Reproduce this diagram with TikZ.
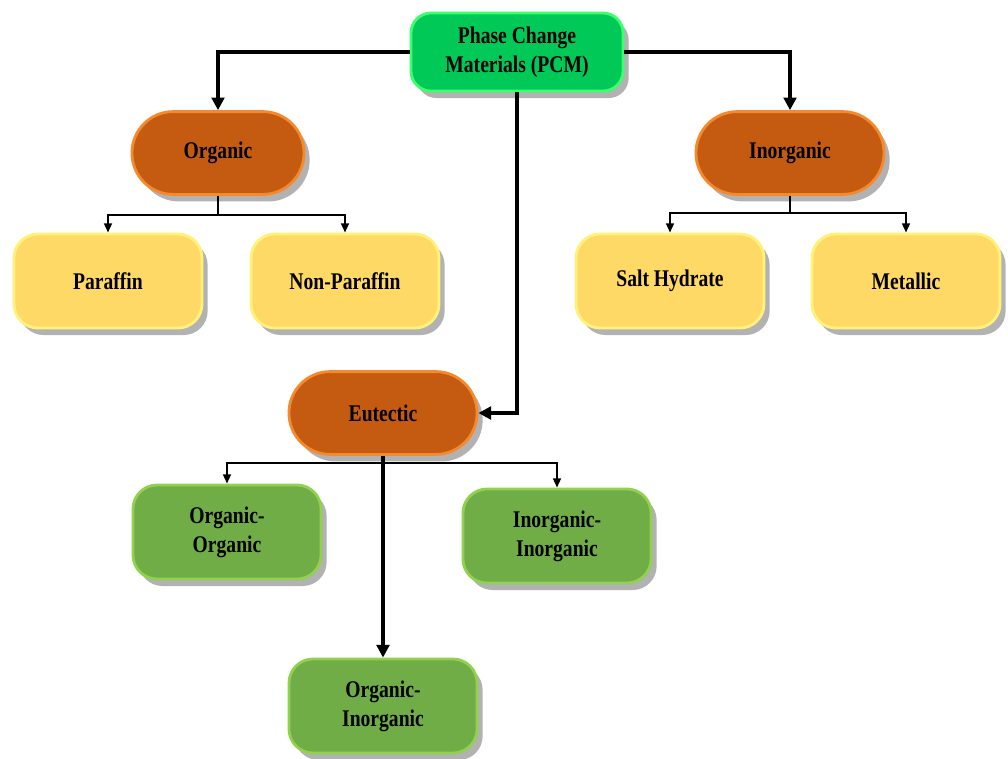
\documentclass[tikz,border=0pt]{standalone}
\usepackage{fontspec}
\setmainfont{Liberation Serif}[FakeStretch=0.82]
\usepackage{tikz}
\usetikzlibrary{arrows.meta,positioning,shadows}
\definecolor{pcmgreen}{HTML}{00C957}
\definecolor{pcmglow}{HTML}{3CFF70}
\definecolor{rust}{HTML}{C55A11}
\definecolor{rustglow}{HTML}{F58A2C}
\definecolor{sand}{HTML}{FFD966}
\definecolor{sandglow}{HTML}{FFF27A}
\definecolor{leaf}{HTML}{70AD47}
\definecolor{leafglow}{HTML}{92D050}
\tikzset{
  box/.style={align=center,font=\bfseries\fontsize{17}{20.5}\selectfont,line width=2pt,
    drop shadow={shadow xshift=4pt,shadow yshift=-5pt,opacity=0.3,fill=black}},
  rootbox/.style={box,fill=pcmgreen,draw=pcmglow,minimum width=5.3cm,minimum height=1.95cm,rounded corners=0.5cm},
  classbox/.style={box,fill=rust,draw=rustglow,minimum width=4.7cm,minimum height=2.07cm,rounded corners=1.03cm},
  typebox/.style={box,fill=sand,draw=sandglow,minimum width=4.7cm,minimum height=2.35cm,rounded corners=0.6cm},
  mixbox/.style={box,fill=leaf,draw=leafglow,minimum width=4.7cm,minimum height=2.35cm,rounded corners=0.6cm},
  mainarrow/.style={line width=2.8pt,-{Triangle[length=9pt,width=9pt]}},
  subarrow/.style={line width=1.5pt,-{Triangle[length=6.5pt,width=5.5pt]}}
}

\begin{document}
\begin{tikzpicture}[x=0.025cm,y=-0.025cm]
        \useasboundingbox (0,0) rectangle (1008,758);
        % top
        \node[rootbox] (pcm) at (517,52) {Phase Change\\Materials (PCM)};
        % classes
        \node[classbox,minimum width=4.3cm] (org) at (218,153) {Organic};
        \node[classbox] (inorg) at (790,153) {Inorganic};
        \node[classbox] (eut) at (383,413) {Eutectic};
        % types
        \node[typebox] (par) at (108,281) {Paraffin};
        \node[typebox] (npar) at (345,281) {Non-Paraffin};
        \node[typebox] (salt) at (670,281) {Salt Hydrate};
        \node[typebox] (metal) at (906,281) {Metallic};
        % eutectic mixtures
        \node[mixbox] (oo) at (227,532) {Organic-\\Organic};
        \node[mixbox] (ii) at (557,536) {Inorganic-\\Inorganic};
        \node[mixbox] (oi) at (383,706) {Organic-\\Inorganic};
        % main links
        \draw[mainarrow] (pcm.west) -| (org.north);
        \draw[mainarrow] (pcm.east) -| (inorg.north);
        \draw[mainarrow] (pcm.south) |- (eut.east);
        \draw[mainarrow] (eut.south) -- (oi.north);
        % branches
        \coordinate (orgsplit) at (218,215);
        \coordinate (inorgsplit) at (790,213);
        \coordinate (eutsplit) at (383,463);
        \draw[line width=1.5pt] (org.south) -- (orgsplit);
        \draw[line width=1.5pt] (inorg.south) -- (inorgsplit);
        \draw[subarrow] (orgsplit) -| (par.north);
        \draw[subarrow] (orgsplit) -| (npar.north);
        \draw[subarrow] (inorgsplit) -| (salt.north);
        \draw[subarrow] (inorgsplit) -| (metal.north);
        \draw[subarrow] (eutsplit) -| (oo.north);
        \draw[subarrow] (eutsplit) -| (ii.north);
      \end{tikzpicture}
\end{document}
